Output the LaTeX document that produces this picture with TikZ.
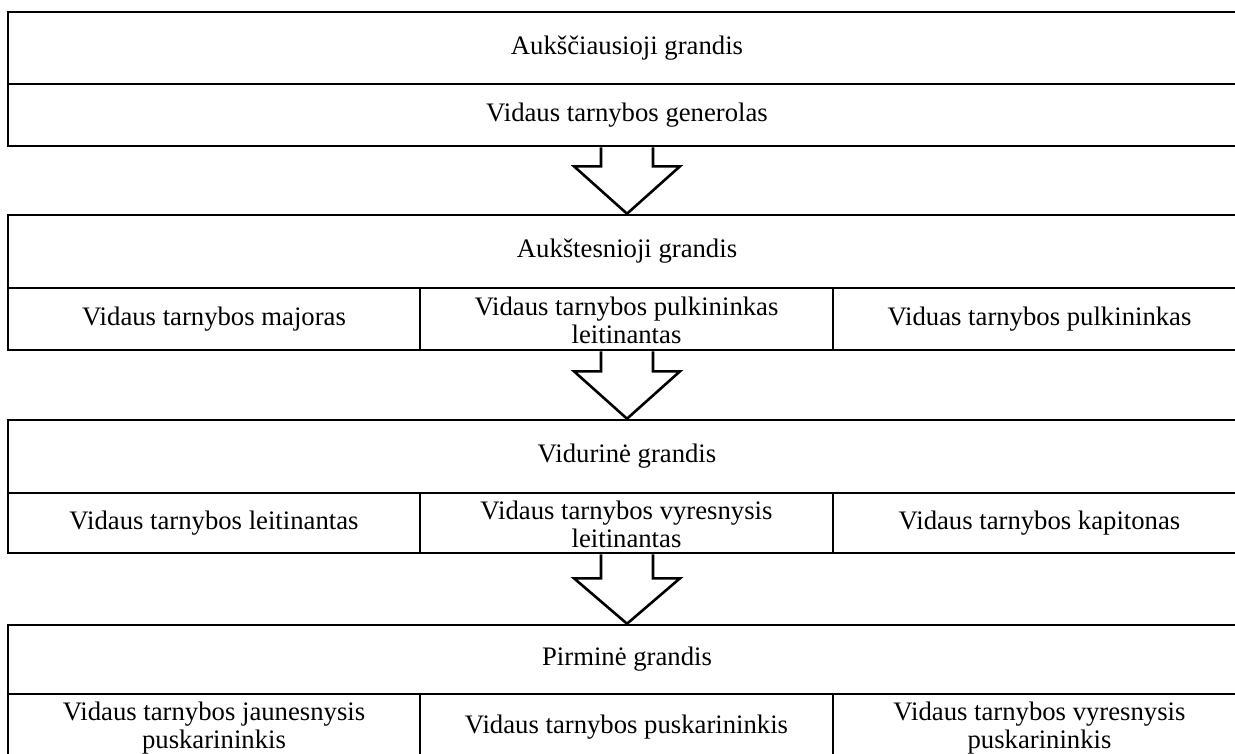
\documentclass[tikz,border=0pt]{standalone}
\usepackage{fontspec}
\setmainfont{Liberation Serif}
\usetikzlibrary{calc}
\tikzset{
 blk/.style={draw, line width=2.6pt, minimum width=1238pt, inner sep=0pt},
 sep/.style={line width=1.8pt},
 lbl/.style={align=center, font=\fontsize{26.7}{28}\selectfont, inner sep=0pt},
 bigarrow/.style={line width=2.6pt, line join=miter},
}
\begin{document}
\begin{tikzpicture}[x=1pt,y=-1pt]
\useasboundingbox (0,0) rectangle (1235,753);
\clip (0,0) rectangle (1235,753);
% blocks
\node[blk, minimum height=134pt] (b1) at (627,79) {};
\node[blk, minimum height=135pt] (b2) at (627,282.5) {};
\node[blk, minimum height=133pt] (b3) at (627,486.5) {};
\node[blk, minimum height=140pt] (b4) at (627,695) {};
% horizontal dividers
\draw[sep] (b1.west |- 0,84) -- (b1.east |- 0,84);
\draw[sep] (b2.west |- 0,288) -- (b2.east |- 0,288);
\draw[sep] (b3.west |- 0,493) -- (b3.east |- 0,493);
\draw[sep] (b4.west |- 0,694) -- (b4.east |- 0,694);
% vertical dividers
\draw[sep] (420,288) -- (420,0 |- b2.south);
\draw[sep] (833,288) -- (833,0 |- b2.south);
\draw[sep] (420,493) -- (420,0 |- b3.south);
\draw[sep] (833,493) -- (833,0 |- b3.south);
\draw[sep] (420,694) -- (420,0 |- b4.south);
\draw[sep] (833,694) -- (833,0 |- b4.south);
% texts
\node[lbl] (t1) at (627,48) {Aukščiausioji grandis};
\node[lbl] (t1a) at (627,115) {Vidaus tarnybos generolas};
\node[lbl] (t2) at (627,251) {Aukštesnioji grandis};
\node[lbl] (t2a) at (214,319) {Vidaus tarnybos majoras};
\node[lbl] (t2b) at (626.5,320) {Vidaus tarnybos pulkininkas\\leitinantas};
\node[lbl] (t2c) at (1039.5,319) {Viduas tarnybos pulkininkas};
\node[lbl] (t3) at (627,456) {Vidurinė grandis};
\node[lbl] (t3a) at (214,523) {Vidaus tarnybos leitinantas};
\node[lbl] (t3b) at (626.5,524) {Vidaus tarnybos vyresnysis\\leitinantas};
\node[lbl] (t3c) at (1039.5,523) {Vidaus tarnybos kapitonas};
\node[lbl] (t4) at (627,659) {Pirminė grandis};
\node[lbl] (t4a) at (214,728) {Vidaus tarnybos jaunesnysis\\puskarininkis};
\node[lbl] (t4b) at (626.5,727) {Vidaus tarnybos puskarininkis};
\node[lbl] (t4c) at (1039.5,728) {Vidaus tarnybos vyresnysis\\puskarininkis};
% arrows
\draw[bigarrow] ($(b1.south)+(-26,0)$) -- ++(0,19) -- ++(-27,0) -- (b2.north) -- ($(b1.south)+(53,19)$) -- ++(-27,0) -- ($(b1.south)+(26,0)$);
\draw[bigarrow] ($(b2.south)+(-26,0)$) -- ++(0,20) -- ++(-27,0) -- (b3.north) -- ($(b2.south)+(53,20)$) -- ++(-27,0) -- ($(b2.south)+(26,0)$);
\draw[bigarrow] ($(b3.south)+(-26,0)$) -- ++(0,24) -- ++(-27,0) -- (b4.north) -- ($(b3.south)+(53,24)$) -- ++(-27,0) -- ($(b3.south)+(26,0)$);
\end{tikzpicture}
\end{document}
